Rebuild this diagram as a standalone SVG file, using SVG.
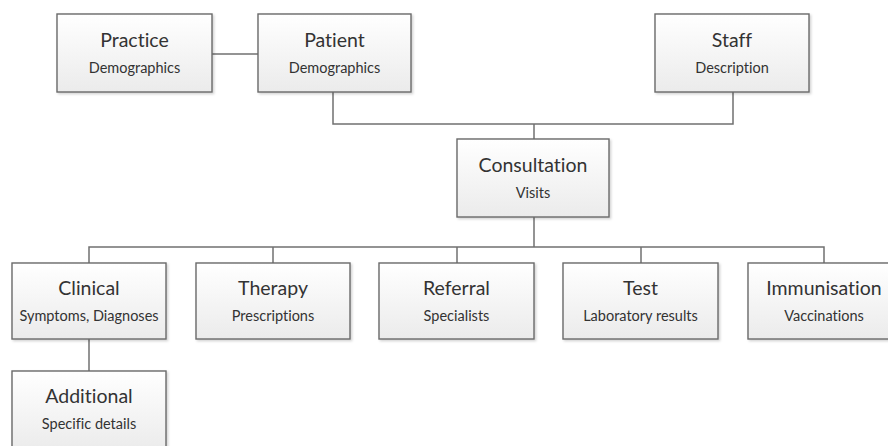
<svg xmlns="http://www.w3.org/2000/svg" width="888" height="446" viewBox="0 0 888 446">
<defs>
<linearGradient id="g" x1="0" y1="0" x2="0" y2="1">
<stop offset="0" stop-color="#ffffff"/>
<stop offset="1" stop-color="#ebebeb"/>
</linearGradient>
<filter id="sh" x="-10%" y="-10%" width="130%" height="130%">
<feDropShadow dx="1.5" dy="1.5" stdDeviation="1.2" flood-color="#000" flood-opacity="0.18"/>
</filter>
<style>
.box{fill:url(#g);stroke:#6a6a6a;stroke-width:1.4;filter:url(#sh)}
.t{font-family:Lato,"Open Sans","Liberation Sans",sans-serif;font-size:19.5px;fill:#333;text-anchor:middle;font-variant-ligatures:none}
.s{font-family:Lato,"Open Sans","Liberation Sans",sans-serif;font-size:14.5px;fill:#333;text-anchor:middle;font-variant-ligatures:none}
.c{fill:none;stroke:#707070;stroke-width:1.5}
</style>
</defs>
<rect width="888" height="446" fill="#ffffff"/>
<g id="connectors">
<path class="c" d="M212 54H258"/>
<path class="c" d="M333 92V124H733V92"/>
<path class="c" d="M534 124V139"/>
<path class="c" d="M534 217V247"/>
<path class="c" d="M89 263V247H824V263"/>
<path class="c" d="M273 247V263"/>
<path class="c" d="M457 247V263"/>
<path class="c" d="M641 247V263"/>
<path class="c" d="M89 339V371"/>
</g>
<g id="practice"><rect class="box" x="57" y="14" width="155" height="78"/><text class="t" x="134.5" y="47">Practice</text><text class="s" x="134.5" y="73">Demographics</text></g>
<g id="patient"><rect class="box" x="258" y="14" width="153" height="78"/><text class="t" x="334.5" y="47">Patient</text><text class="s" x="334.5" y="73">Demographics</text></g>
<g id="staff"><rect class="box" x="655" y="14" width="154" height="78"/><text class="t" x="732" y="47">Staff</text><text class="s" x="732" y="73">Description</text></g>
<g id="consultation"><rect class="box" x="457" y="139" width="152" height="78"/><text class="t" x="533" y="172">Consultation</text><text class="s" x="533" y="198">Visits</text></g>
<g id="clinical"><rect class="box" x="12" y="263" width="154" height="76"/><text class="t" x="89" y="295">Clinical</text><text class="s" x="89" y="321">Symptoms, Diagnoses</text></g>
<g id="therapy"><rect class="box" x="196" y="263" width="154" height="76"/><text class="t" x="273" y="295">Therapy</text><text class="s" x="273" y="321">Prescriptions</text></g>
<g id="referral"><rect class="box" x="379" y="263" width="155" height="76"/><text class="t" x="456.5" y="295">Referral</text><text class="s" x="456.5" y="321">Specialists</text></g>
<g id="test"><rect class="box" x="563" y="263" width="155" height="76"/><text class="t" x="640.5" y="295">Test</text><text class="s" x="640.5" y="321">Laboratory results</text></g>
<g id="immunisation"><rect class="box" x="748" y="263" width="154" height="76"/><text class="t" x="824" y="295">Immunisation</text><text class="s" x="824" y="321">Vaccinations</text></g>
<g id="additional"><rect class="box" x="12" y="371" width="154" height="80"/><text class="t" x="89" y="403">Additional</text><text class="s" x="89" y="429">Specific details</text></g>
</svg>
